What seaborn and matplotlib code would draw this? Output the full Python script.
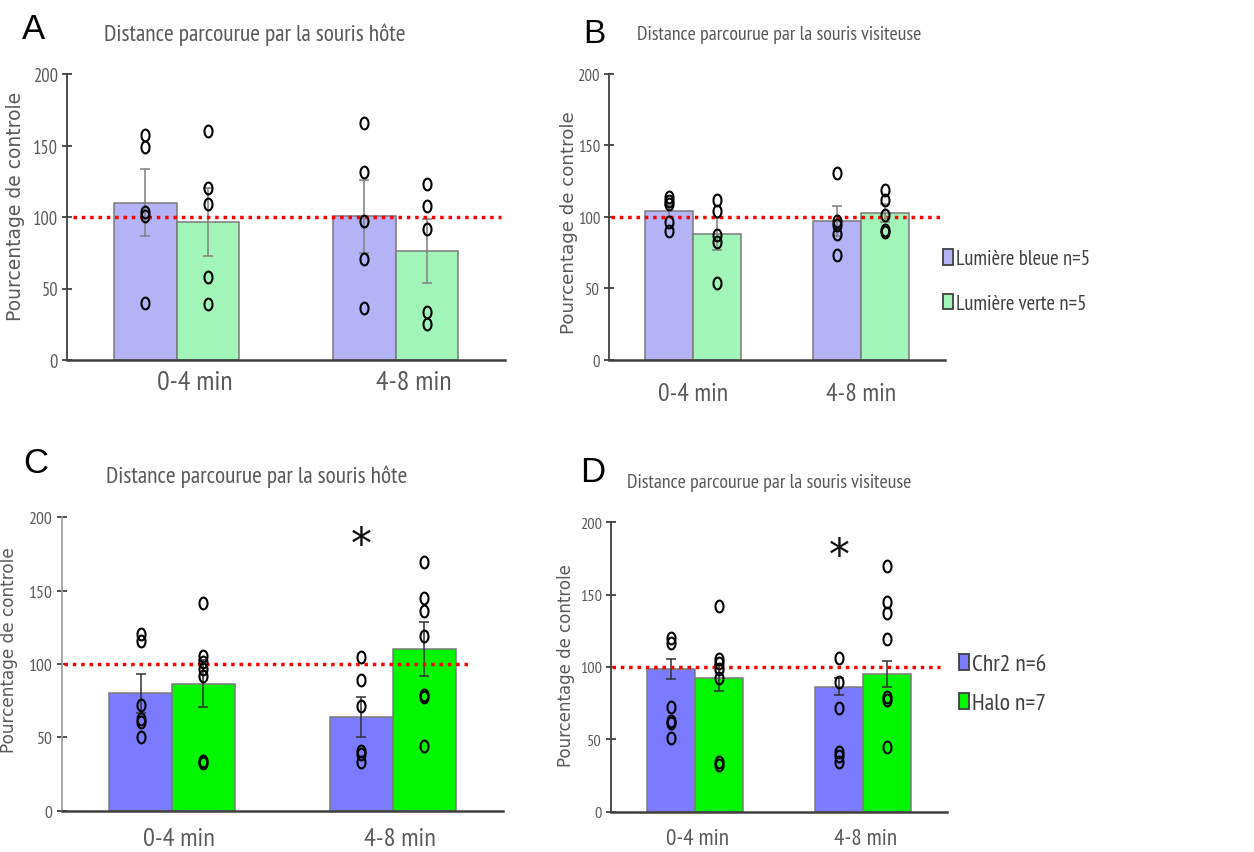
import numpy as np
import pandas as pd
import matplotlib
matplotlib.use("Agg")
import matplotlib.pyplot as plt
import seaborn as sns
from matplotlib import font_manager
from matplotlib.path import Path
from matplotlib.transforms import ScaledTranslation

# ---------------- data ----------------
times = ["0-4 min", "4-8 min"]
y_label = "Pourcentage de controle"
y_ticks = [0, 50, 100, 150, 200]
control_level = 100

A_title = "Distance parcourue par la souris hôte"
B_title = "Distance parcourue par la souris visiteuse"
C_title = "Distance parcourue par la souris hôte"
D_title = "Distance parcourue par la souris visiteuse"

light_groups = ["Lumière bleue n=5", "Lumière verte n=5"]
opto_groups = ["Chr2 n=6", "Halo n=7"]

# Panel A
A_blue_mean = [110.0, 100.5]
A_green_mean = [96.7, 76.2]
A_blue_sem = [23.5, 25.4]
A_green_sem = [23.7, 22.5]
A_blue_pts_0_4 = [157.3, 149.0, 103.3, 100.5, 39.9]
A_blue_pts_4_8 = [165.5, 131.2, 97.4, 70.6, 36.1]
A_green_pts_0_4 = [160.0, 120.0, 109.0, 57.8, 39.2]
A_green_pts_4_8 = [122.8, 107.9, 91.6, 33.4, 25.2]

# Panel B
B_blue_mean = [104.1, 97.3]
B_green_mean = [88.0, 102.5]
B_blue_sem = [4.5, 10.5]
B_green_sem = [11.0, 6.3]
B_blue_pts_0_4 = [114.0, 111.0, 109.0, 96.6, 90.3]
B_blue_pts_4_8 = [130.5, 97.3, 94.3, 88.0, 73.5]
B_green_pts_0_4 = [111.8, 104.3, 87.3, 82.1, 53.7]
B_green_pts_4_8 = [119.0, 111.8, 101.3, 91.0, 89.1]

# Panel C
C_blue_mean = [80.0, 63.6]
C_green_mean = [86.4, 110.2]
C_blue_sem = [13.2, 13.7]
C_green_sem = [16.0, 18.2]
C_blue_pts_0_4 = [120.5, 115.9, 72.3, 62.5, 60.7, 50.5]
C_blue_pts_4_8 = [105.0, 89.3, 71.6, 40.9, 38.6, 33.4]
C_green_pts_0_4 = [141.4, 105.2, 101.6, 96.6, 91.6, 34.1, 32.5]
C_green_pts_4_8 = [169.8, 144.8, 136.4, 119.3, 78.9, 77.3, 44.3]
C_star_value = 181

# Panel D
D_blue_mean = [98.6, 86.4]
D_green_mean = [92.2, 94.9]
D_blue_sem = [6.7, 6.0]
D_green_sem = [9.0, 9.0]
D_blue_pts_0_4 = [119.8, 116.6, 72.1, 62.9, 61.3, 50.7]
D_blue_pts_4_8 = [106.0, 89.9, 71.4, 41.0, 38.7, 34.1]
D_green_pts_0_4 = [142.4, 105.5, 102.8, 98.6, 92.2, 34.1, 32.3]
D_green_pts_4_8 = [170.0, 145.2, 137.3, 119.4, 79.0, 77.4, 44.9]
D_star_value = 177

# ---------------- style ----------------
W, H = 1254, 853
avail = {f.name for f in font_manager.fontManager.ttflist}
NARROW = next((n for n in ["PT Sans Narrow", "Liberation Sans Narrow", "Archivo Narrow"]
               if n in avail), "Liberation Sans")
FAM = [NARROW, "Liberation Sans", "DejaVu Sans"]
plt.rcParams["font.family"] = FAM

GRAY_TXT = "#595959"
AXIS_COL = "#404040"
EDGE = "#7a7a7a"

theta = np.linspace(0, 2 * np.pi, 64)
ELLIPSE = Path(np.column_stack([0.68 * np.cos(theta), np.sin(theta)]), closed=True)

fig = plt.figure(figsize=(W / 100, H / 100), dpi=100)
renderer = fig.canvas.get_renderer()


def fit_size(s, width_px, family=FAM):
    t = fig.text(0, 0, s, fontsize=10, family=family)
    w = t.get_window_extent(renderer).width
    t.remove()
    return 10 * width_px / w


def fx(x):
    return x / W


def fy(y):
    return 1 - y / H


def rect(l, t, r, b):
    return [fx(l), fy(b), (r - l) / W, (b - t) / H]


panels = [
    dict(letter="A", title=A_title, rect=rect(67, 75, 505, 361), groups=light_groups,
         means=[A_blue_mean, A_green_mean], sems=[A_blue_sem, A_green_sem],
         pts=[[A_blue_pts_0_4, A_blue_pts_4_8], [A_green_pts_0_4, A_green_pts_4_8]],
         colors=["#b3b3f5", "#a2f5b9"], ecol="#7f7f7f", legend=None, star=None,
         letter_pos=(22, 39), letter_size=25, title_pos=(104, 41.5), title_w=303,
         xt_w=76, xt_shift=18, xt_pad=7, yt_w=25, yl_w=229, yl_pos=(-0.096, 0.54),
         line=(0.014, 0.99), lspine="#404040"),
    dict(letter="B", title=B_title, rect=rect(609, 75, 945, 360.7), groups=light_groups,
         means=[B_blue_mean, B_green_mean], sems=[B_blue_sem, B_green_sem],
         pts=[[B_blue_pts_0_4, B_blue_pts_4_8], [B_green_pts_0_4, B_green_pts_4_8]],
         colors=["#b3b3f5", "#a2f5b9"], ecol="#7f7f7f",
         legend=dict(x=943, y=282, text="Lumière bleue n=5", w=133, spacing=50, hl=10, hh=16),
         star=None, letter_pos=(583, 43), letter_size=24, title_pos=(637, 40.5), title_w=285,
         xt_w=70, xt_shift=0, xt_pad=16, yt_w=22.5, yl_w=224, yl_pos=(-0.091, 0.485),
         line=(0.006, 0.99), lspine="#404040"),
    dict(letter="C", title=C_title, rect=rect(61.7, 518.3, 503, 811.7), groups=opto_groups,
         means=[C_blue_mean, C_green_mean], sems=[C_blue_sem, C_green_sem],
         pts=[[C_blue_pts_0_4, C_blue_pts_4_8], [C_green_pts_0_4, C_green_pts_4_8]],
         colors=["#7b7bff", "#00f700"], ecol="#303030", legend=None, star=C_star_value,
         letter_pos=(23, 473), letter_size=25, title_pos=(106, 483), title_w=301,
         xt_w=72, xt_shift=7, xt_pad=12, yt_w=24, yl_w=206, yl_pos=(-0.098, 0.551),
         line=(0.006, 0.925), lspine="#a0a0a0"),
    dict(letter="D", title=D_title, rect=rect(610.7, 523.3, 947, 812.7), groups=opto_groups,
         means=[D_blue_mean, D_green_mean], sems=[D_blue_sem, D_green_sem],
         pts=[[D_blue_pts_0_4, D_blue_pts_4_8], [D_green_pts_0_4, D_green_pts_4_8]],
         colors=["#7b7bff", "#00f700"], ecol="#303030",
         legend=dict(x=959, y=685, text="Chr2 n=6", w=75, spacing=46, hl=10, hh=16),
         star=D_star_value, letter_pos=(580, 482), letter_size=25, title_pos=(627, 488),
         title_w=285, xt_w=63, xt_shift=3, xt_pad=12, yt_w=22, yl_w=204,
         yl_pos=(-0.106, 0.51), line=(0.003, 0.98), lspine="#404040"),
]

for P in panels:
    ax = fig.add_axes(P["rect"])
    rows = []
    for g, mlist in zip(P["groups"], P["means"]):
        for t, m in zip(times, mlist):
            rows.append({"temps": t, "groupe": g, "valeur": m})
    df = pd.DataFrame(rows)
    sns.barplot(data=df, x="temps", y="valeur", hue="groupe", order=times,
                hue_order=P["groups"], palette=P["colors"], saturation=1, width=0.57,
                errorbar=None, edgecolor=EDGE, linewidth=1.1,
                legend=P["legend"] is not None, ax=ax)

    bar_conts = list(ax.containers)
    for gi, cont in enumerate(bar_conts):
        for ti, bar in enumerate(cont):
            cx = bar.get_x() + bar.get_width() / 2
            ax.errorbar(cx, P["means"][gi][ti], yerr=P["sems"][gi][ti], fmt="none",
                        ecolor=P["ecol"], elinewidth=1.1, capsize=3.5, capthick=1.1, zorder=3)
            vals = P["pts"][gi][ti]
            ax.plot([cx] * len(vals), vals, linestyle="none", marker=ELLIPSE, ms=8.5,
                    mfc="none", mec="black", mew=1.5, zorder=5)

    ax.axhline(control_level, xmin=P["line"][0], xmax=P["line"][1], color="#ff0000",
               lw=2.5, linestyle=(0, (1, 1.4)), zorder=4)

    if P["star"] is not None:
        b = bar_conts[0][1]
        ax.text(b.get_x() + b.get_width() / 2, P["star"], "*", ha="center", va="center",
                fontsize=30, family="DejaVu Sans", color="#111111")

    ax.set_xlim(-0.5, 1.5)
    ax.set_ylim(0, 200)
    ax.set_yticks(y_ticks)
    ax.set_xlabel("")
    yl_size = fit_size(y_label, P["yl_w"], family="DejaVu Sans")
    ax.set_ylabel(y_label, fontsize=yl_size, color=GRAY_TXT, family="DejaVu Sans")
    ax.yaxis.set_label_coords(*P["yl_pos"])
    for s in ["top", "right"]:
        ax.spines[s].set_visible(False)
    ax.spines["bottom"].set_color(AXIS_COL)
    ax.spines["bottom"].set_linewidth(1.8)
    ax.spines["left"].set_color(P["lspine"])
    ax.spines["left"].set_linewidth(1.3)
    ax.tick_params(axis="y", direction="inout", length=7, width=1.3, color=AXIS_COL,
                   labelsize=fit_size("200", P["yt_w"]), labelcolor=GRAY_TXT, pad=3)
    ax.tick_params(axis="x", length=0, labelsize=fit_size(times[0], P["xt_w"]),
                   labelcolor=GRAY_TXT, pad=P["xt_pad"])
    off = ScaledTranslation(P["xt_shift"] / 100, 0, fig.dpi_scale_trans)
    for lbl in ax.get_xticklabels():
        lbl.set_transform(lbl.get_transform() + off)

    if P["legend"] is not None:
        L = P["legend"]
        leg = ax.get_legend()
        handles = leg.legend_handles
        labels = [t.get_text() for t in leg.get_texts()]
        leg.remove()
        lsize = fit_size(L["text"], L["w"])
        fpx = lsize * 100 / 72
        ax.legend(handles, labels, loc="center left", bbox_to_anchor=(fx(L["x"]), fy(L["y"])),
                  bbox_transform=fig.transFigure, frameon=False, borderpad=0, borderaxespad=0,
                  fontsize=lsize, labelcolor="#3f3f3f",
                  handlelength=L["hl"] / fpx, handleheight=L["hh"] / fpx,
                  handletextpad=3 / fpx, labelspacing=(L["spacing"] - 1.2 * fpx) / fpx)
        for h in ax.get_legend().legend_handles:
            h.set_edgecolor("#404040")
            h.set_linewidth(1.3)

    fig.text(fx(P["letter_pos"][0]), fy(P["letter_pos"][1]), P["letter"], ha="left",
             va="baseline", fontsize=P["letter_size"], family="Liberation Sans", color="black")
    fig.text(fx(P["title_pos"][0]), fy(P["title_pos"][1]), P["title"], ha="left",
             va="baseline", fontsize=fit_size(P["title"], P["title_w"]), color=GRAY_TXT)

fig.savefig("out.png", dpi=100)
